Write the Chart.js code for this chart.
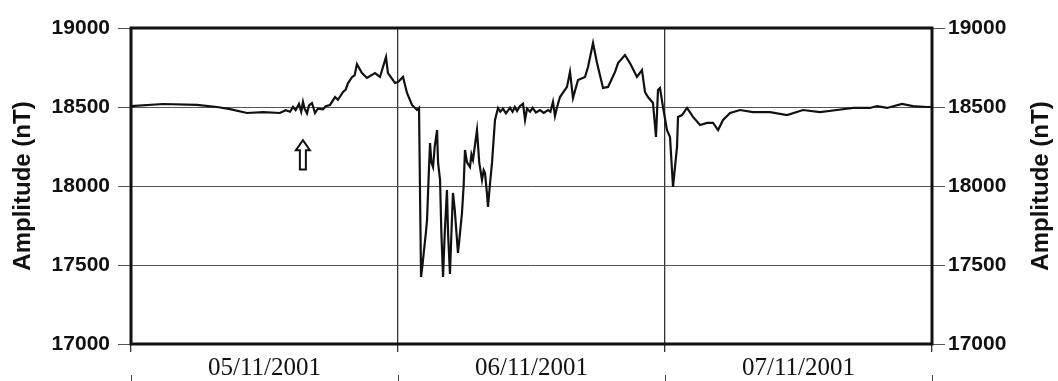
<!DOCTYPE html>
<html lang="en">
<head>
<meta charset="UTF-8">
<title>Amplitude (nT)</title>
<script src="https://cdn.jsdelivr.net/npm/chart.js"></script>
<style>
  html, body { margin: 0; padding: 0; background: #fff; }
  #wrap { width: 1058px; height: 381px; }
</style>
</head>
<body>
<div id="wrap"><canvas id="grafico" width="1058" height="381"></canvas></div>
<script>
// hours since 05/11/2001 00:00
var horas = [0, 2.88, 5.93, 7.73, 8.90, 10.43, 11.87, 13.39, 13.9, 14.3, 14.56, 14.8, 15.1, 15.3, 15.46, 15.6,
  15.82, 16.0, 16.27, 16.54, 16.8, 17.26, 17.5, 17.89, 18.34, 18.6, 19.06, 19.3, 19.5, 19.87, 20.1, 20.31, 20.76,
  21.21, 21.93, 22.38, 22.92, 23.10, 23.73, 24.0, 24.45, 24.81, 25.26, 25.71, 25.89,
  26.07, 26.2, 26.34, 26.5, 26.61, 26.75, 26.88, 27.0, 27.15, 27.3, 27.51, 27.6, 27.78, 27.9, 28.05, 28.2, 28.40,
  28.5, 28.67, 28.8, 28.94, 29.1, 29.39, 29.5, 29.75, 29.9, 30.02, 30.2, 30.47, 30.6, 30.74, 30.9, 31.10, 31.3,
  31.55, 31.7, 31.82, 32.0, 32.09, 32.25, 32.45, 32.6, 32.72, 32.99,
  33.2, 33.44, 33.7, 34.07, 34.3, 34.5, 34.70, 34.95, 35.24, 35.42, 35.6, 35.87, 36.1, 36.4, 36.76, 37.1, 37.48,
  37.7, 37.93, 38.11, 38.3, 38.56, 39.19, 39.46, 39.73, 40.18, 40.81, 41.08, 41.53, 41.89, 42.43, 42.88, 43.51,
  43.78, 44.40, 44.85, 45.48, 45.93, 46.20, 46.47, 46.92, 47.19, 47.37, 47.55, 47.82, 48.18, 48.45, 48.72, 49.08,
  49.17, 49.53, 49.98, 50.52, 51.15, 51.78, 52.32, 52.77, 53.22, 53.85, 54.74, 55.91, 57.44, 58.97, 60.41, 61.93,
  63.46, 64.90, 66.43, 67.06, 67.96, 69.30, 70.29, 71.55, 72];

var amplitude = [18506, 18519, 18513, 18500, 18487, 18462, 18468, 18462, 18480, 18470, 18500, 18480, 18520, 18470, 18532, 18490,
  18460, 18510, 18525, 18462, 18490, 18485, 18505, 18513, 18563, 18545, 18595, 18610, 18650, 18690, 18700, 18772, 18715,
  18684, 18715, 18690, 18816, 18715, 18652, 18658, 18690, 18589, 18513, 18481, 18494,
  17424, 17500, 17595, 17700, 17785, 18050, 18272, 18150, 18120, 18250, 18354, 18150, 18038, 17700, 17424, 17700, 17975,
  17700, 17443, 17700, 17956, 17850, 17576, 17650, 17829, 18000, 18228, 18150, 18120, 18200, 18165, 18250, 18354, 18150,
  18038, 18100, 18082, 17950, 17867, 18000, 18146, 18300, 18418, 18494,
  18470, 18490, 18460, 18495, 18470, 18500, 18475, 18505, 18520, 18418, 18490, 18470, 18495, 18465, 18480, 18462, 18481,
  18470, 18532, 18443, 18500, 18563, 18627, 18722, 18557, 18671, 18690, 18753, 18905, 18778, 18620, 18627, 18722,
  18778, 18829, 18778, 18690, 18734, 18595, 18563, 18525, 18310, 18608, 18620, 18500, 18354, 18310, 17994, 18247,
  18437, 18449, 18494, 18437, 18386, 18399, 18399, 18354, 18418, 18462, 18481, 18468, 18468, 18449, 18481, 18468,
  18481, 18494, 18494, 18506, 18494, 18519, 18506, 18500, 18500];

var dias = ['05/11/2001', '06/11/2001', '07/11/2001'];
var ticksY = [17000, 17500, 18000, 18500, 19000];

var pontos = horas.map(function (h, i) { return { x: h, y: amplitude[i] }; });

// frame, rotated axis titles, small marks under the dates and the arrow
var extras = {
  id: 'extras',
  afterDraw: function (chart) {
    var ctx = chart.ctx;
    var a = chart.chartArea;
    var sx = chart.scales.x, sy = chart.scales.y;
    ctx.save();
    ctx.strokeStyle = '#111';
    ctx.lineWidth = 3;
    ctx.strokeRect(a.left, a.top, a.right - a.left, a.bottom - a.top);

    ctx.fillStyle = '#111';
    ctx.font = 'bold 24px "Liberation Sans", Arial, sans-serif';
    ctx.textAlign = 'center';
    ctx.textBaseline = 'middle';
    var meio = (a.top + a.bottom) / 2;
    [23, 1041].forEach(function (x) {
      ctx.save();
      ctx.translate(x, meio);
      ctx.rotate(-Math.PI / 2);
      ctx.fillText('Amplitude (nT)', 0, 0);
      ctx.restore();
    });

    ctx.lineWidth = 1;
    ctx.strokeStyle = '#444';
    [0, 24, 48, 72].forEach(function (h) {
      var px = Math.round(sx.getPixelForValue(h)) + 0.5;
      ctx.beginPath();
      ctx.moveTo(px, 375);
      ctx.lineTo(px, 381);
      ctx.stroke();
    });

    // up arrow (outline)
    var cx = sx.getPixelForValue(15.45);
    var top = sy.getPixelForValue(18290);
    var bot = sy.getPixelForValue(18105);
    ctx.strokeStyle = '#111';
    ctx.lineWidth = 2;
    ctx.beginPath();
    ctx.moveTo(cx, top);
    ctx.lineTo(cx + 7, top + 10);
    ctx.lineTo(cx + 3, top + 10);
    ctx.lineTo(cx + 3, bot);
    ctx.lineTo(cx - 3, bot);
    ctx.lineTo(cx - 3, top + 10);
    ctx.lineTo(cx - 7, top + 10);
    ctx.closePath();
    ctx.stroke();
    ctx.restore();
  }
};

var fonteEixo = { family: '"Liberation Sans", Arial, sans-serif', size: 21, weight: 'bold' };

new Chart(document.getElementById('grafico'), {
  type: 'line',
  data: {
    datasets: [{
      data: pontos,
      borderColor: '#111',
      borderWidth: 2.2,
      pointRadius: 0,
      tension: 0,
      fill: false
    }]
  },
  options: {
    responsive: false,
    animation: false,
    layout: { padding: { top: 28, left: 0, right: 0, bottom: 0 } },
    plugins: { legend: { display: false }, tooltip: { enabled: false } },
    scales: {
      x: {
        type: 'linear',
        min: 0,
        max: 72,
        afterBuildTicks: function (s) {
          s.ticks = [0, 12, 24, 36, 48, 60, 72].map(function (v) { return { value: v }; });
        },
        afterFit: function (s) { s.height = 37; },
        ticks: {
          color: '#111',
          padding: 1,
          maxRotation: 0,
          autoSkip: false,
          font: { family: '"Liberation Serif", "Times New Roman", serif', size: 25 },
          callback: function (v) {
            if (v % 24 === 12) return dias[(v - 12) / 24];
            return '';
          }
        },
        grid: {
          color: function (c) { return c.tick && c.tick.value % 24 === 0 ? '#333' : 'rgba(0,0,0,0)'; },
          lineWidth: 1.3,
          tickLength: 8
        },
        border: { display: false }
      },
      y: {
        position: 'left',
        min: 17000,
        max: 19000,
        afterBuildTicks: function (s) {
          s.ticks = ticksY.map(function (v) { return { value: v }; });
        },
        afterFit: function (s) { s.width = 131; },
        ticks: { color: '#111', padding: 8, font: fonteEixo, callback: function (v) { return String(v); } },
        grid: { color: '#555', lineWidth: 1, tickLength: 13 },
        border: { display: false }
      },
      y2: {
        position: 'right',
        min: 17000,
        max: 19000,
        afterBuildTicks: function (s) {
          s.ticks = ticksY.map(function (v) { return { value: v }; });
        },
        afterFit: function (s) { s.width = 126; },
        ticks: { color: '#111', padding: 3, font: fonteEixo, callback: function (v) { return String(v); } },
        grid: { drawOnChartArea: false, color: '#555', tickLength: 13 },
        border: { display: false }
      }
    }
  },
  plugins: [extras]
});
</script>
</body>
</html>
